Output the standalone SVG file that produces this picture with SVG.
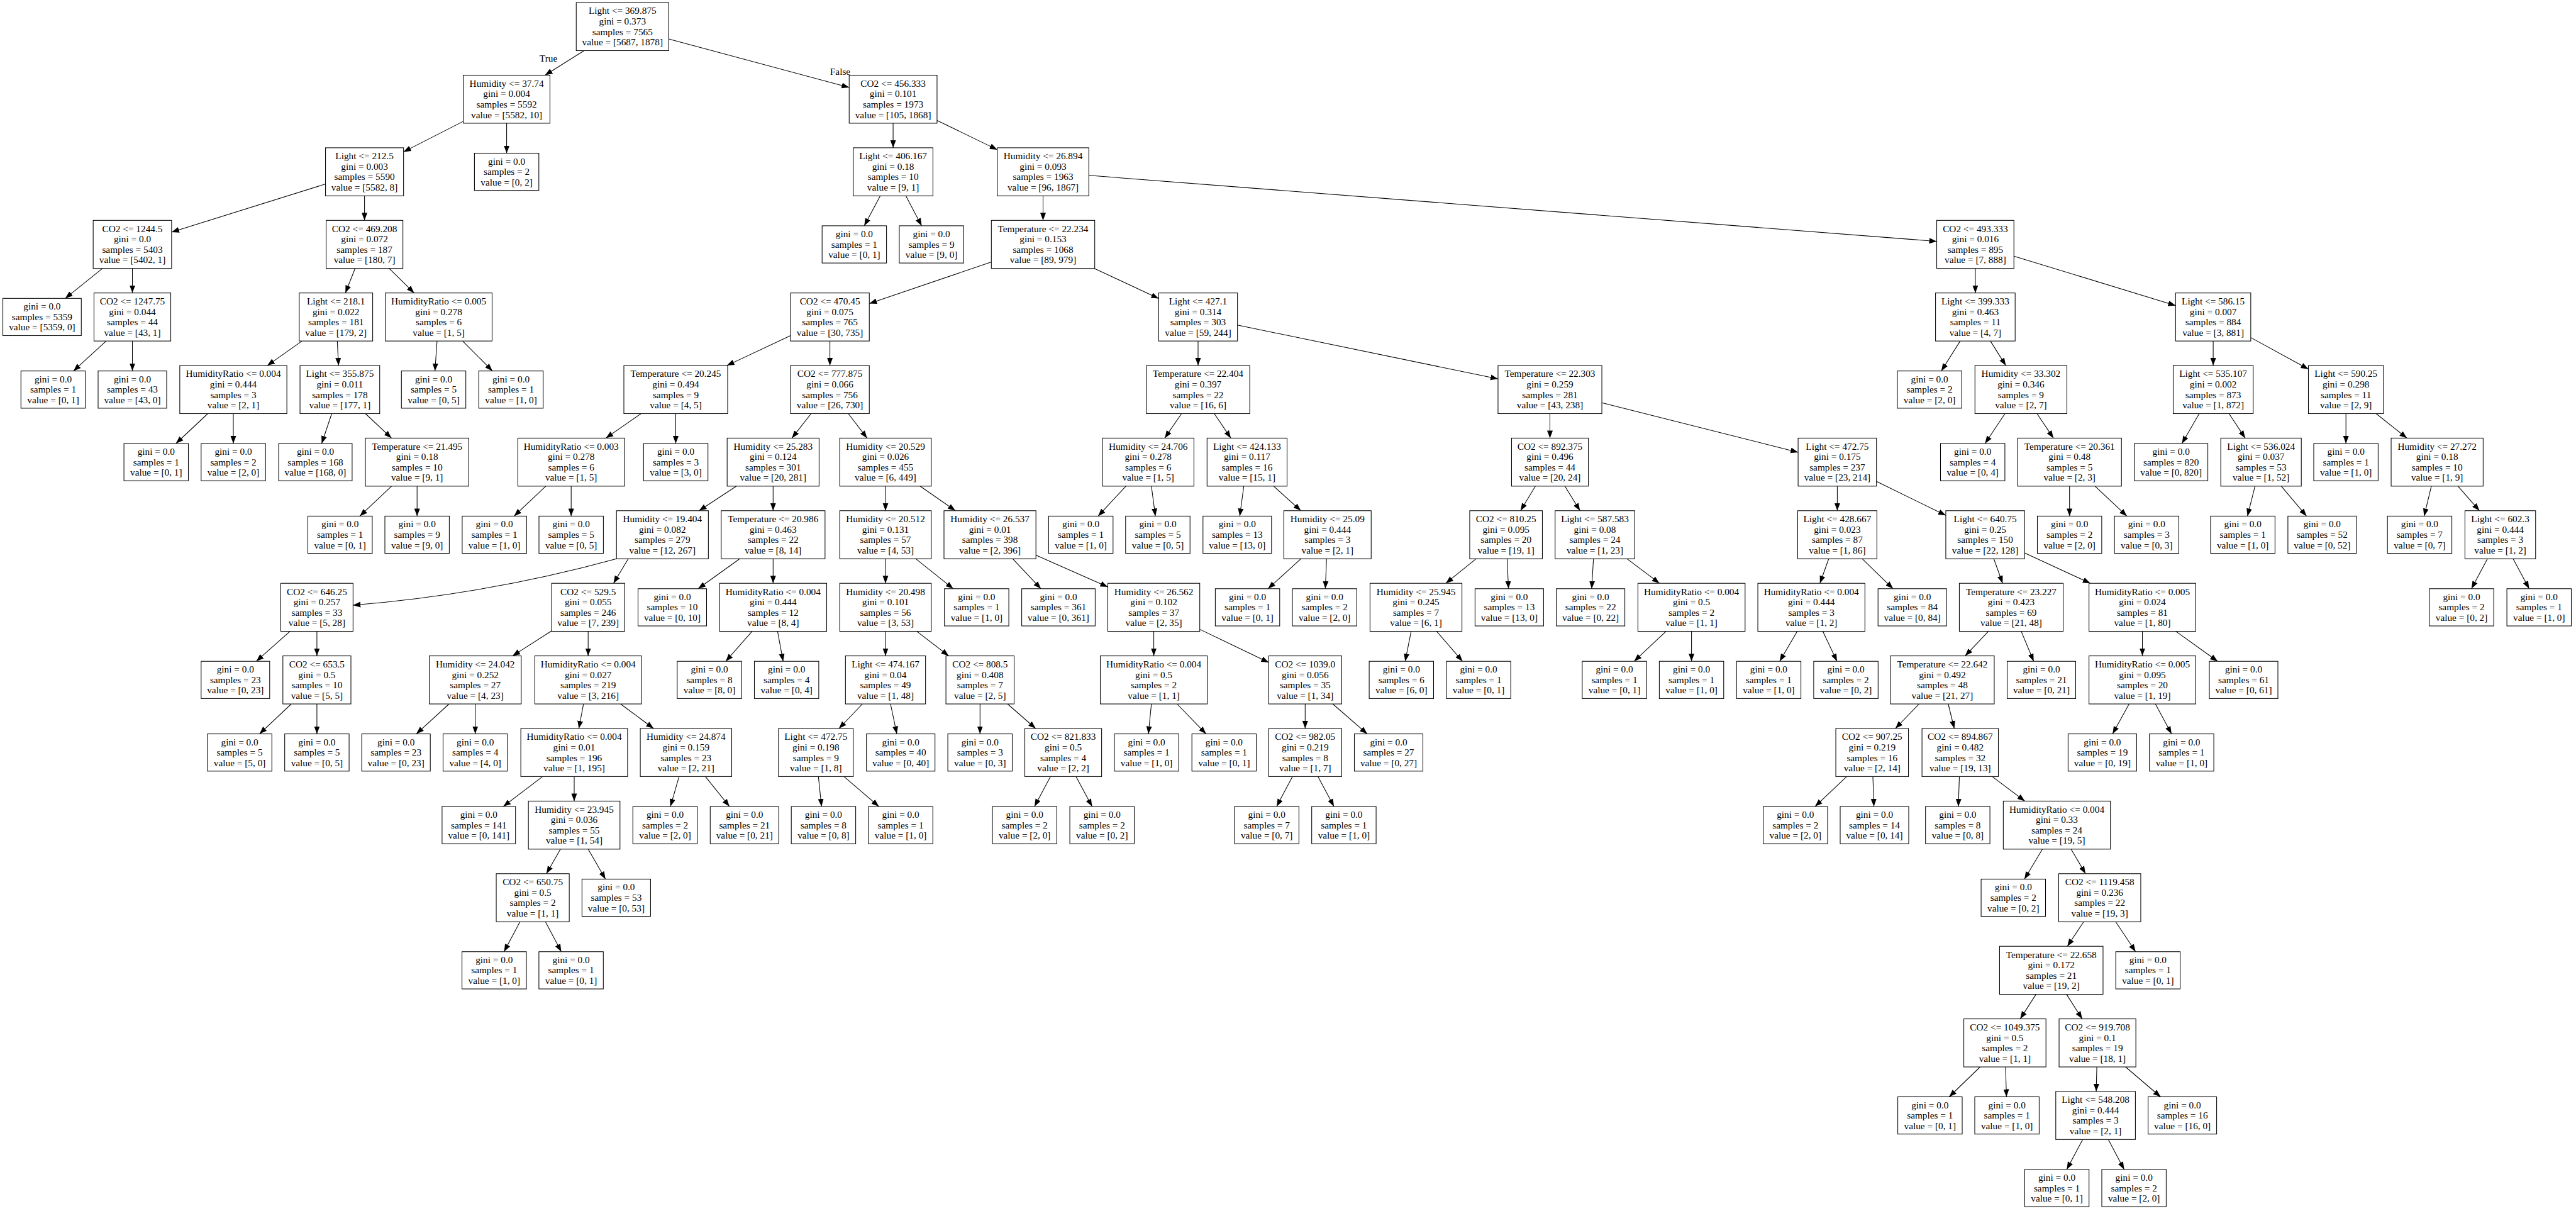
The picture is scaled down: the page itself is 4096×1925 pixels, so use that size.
<svg xmlns="http://www.w3.org/2000/svg" width="4096" height="1925" viewBox="0 0 4096 1925">
<style>
.node rect{fill:#fff;stroke:#000;stroke-width:1.05}
.node text,.lbl{font-family:"Liberation Serif","Times New Roman",serif;font-size:15.3px;text-anchor:middle;fill:#000}
#edges path{fill:none;stroke:#000;stroke-width:1.05;marker-end:url(#arr)}
</style>
<defs>
<marker id="arr" markerUnits="userSpaceOnUse" markerWidth="13" markerHeight="10" refX="12" refY="5" orient="auto" viewBox="0 0 13 10"><path d="M0,0.5L12,5L0,9.5z" fill="#000"/></marker>
</defs>
<rect x="0" y="0" width="4096" height="1925" fill="#fff"/>
<g id="edges">
<path d="M928.8,80.5L866.6,119.5"/>
<path d="M1063.4,62L1350.2,139"/>
<path d="M736.7,192.9L641.6,241.4"/>
<path d="M805.6,195.9L805.6,243.5"/>
<path d="M1420.1,195.9L1420.1,234.9"/>
<path d="M1490,191.5L1585.7,237.9"/>
<path d="M517.5,292.5L272.9,369"/>
<path d="M579.6,311.3L579.6,350.3"/>
<path d="M1399.7,311.3L1374.2,358.9"/>
<path d="M1440.3,311.3L1465.5,358.9"/>
<path d="M1658.5,311.3L1658.5,350.3"/>
<path d="M1731.3,278.8L3079.6,383.7"/>
<path d="M163,426.7L103.7,474.3"/>
<path d="M210.5,426.7L210.5,465.7"/>
<path d="M564.6,426.7L549.2,465.7"/>
<path d="M618.7,426.7L658.5,465.7"/>
<path d="M1576.3,416.5L1382.3,482.6"/>
<path d="M1740.1,426.7L1842.4,474.6"/>
<path d="M3140.9,426.7L3140.9,465.7"/>
<path d="M3202.3,407.2L3459.4,485.7"/>
<path d="M168.8,542.1L116.8,589.7"/>
<path d="M210.5,542.1L210.5,589.7"/>
<path d="M480.2,542.1L425,581.1"/>
<path d="M536.3,542.1L538.3,581.1"/>
<path d="M694.9,542.1L691.6,589.7"/>
<path d="M735.6,542.1L783,589.7"/>
<path d="M1257,533.4L1155.7,581.1"/>
<path d="M1319.6,542.1L1319.6,581.1"/>
<path d="M1905,542.1L1905,581.1"/>
<path d="M1967.7,516.8L2382,602.3"/>
<path d="M3116.8,542.1L3086.8,589.7"/>
<path d="M3164.9,542.1L3189.4,581.1"/>
<path d="M3519.1,542.1L3519.1,581.1"/>
<path d="M3578.9,536.6L3670.5,586.7"/>
<path d="M330.4,657.5L279.8,705"/>
<path d="M371,657.5L371,705"/>
<path d="M527.5,657.5L511.5,705"/>
<path d="M581.1,657.5L622.5,696.4"/>
<path d="M1019.4,657.5L963.3,696.4"/>
<path d="M1074.5,657.5L1074.5,705"/>
<path d="M1289.7,657.5L1259.2,696.4"/>
<path d="M1348.9,657.5L1378.7,696.4"/>
<path d="M1878.7,657.5L1852,696.4"/>
<path d="M1930.8,657.5L1957.1,696.4"/>
<path d="M2464.5,657.5L2464.5,696.4"/>
<path d="M2547.1,640.2L2859.1,718.9"/>
<path d="M3188,657.5L3156.4,705"/>
<path d="M3239,657.5L3265.1,696.4"/>
<path d="M3496.9,657.5L3469.4,705"/>
<path d="M3544.3,657.5L3570,696.4"/>
<path d="M3730.2,657.5L3730.2,705"/>
<path d="M3778.2,657.5L3827.2,696.4"/>
<path d="M622.6,772.8L572.1,820.4"/>
<path d="M663.2,772.8L663.2,820.4"/>
<path d="M867.8,772.8L817.4,820.4"/>
<path d="M908.2,772.8L908.2,820.4"/>
<path d="M1171,772.8L1111.6,811.8"/>
<path d="M1229.3,772.8L1229.3,811.8"/>
<path d="M1408,772.8L1408,811.8"/>
<path d="M1463,772.8L1519.1,811.8"/>
<path d="M1790.2,772.8L1746.1,820.4"/>
<path d="M1830.8,772.8L1837.1,820.4"/>
<path d="M1977.7,772.8L1971.3,820.4"/>
<path d="M2025.2,772.8L2068.5,811.8"/>
<path d="M2441.4,772.8L2417.8,811.8"/>
<path d="M2488.2,772.8L2512.3,811.8"/>
<path d="M2921.4,772.8L2921.4,811.8"/>
<path d="M2983.7,765.2L3094,819.3"/>
<path d="M3290.7,772.8L3290.7,820.4"/>
<path d="M3331.3,772.8L3381.9,820.4"/>
<path d="M3585.6,772.8L3573.6,820.4"/>
<path d="M3627.4,772.8L3667.5,820.4"/>
<path d="M3866,772.8L3854.5,820.4"/>
<path d="M3908.4,772.8L3942.4,811.8"/>
<path d="M980.2,888.2Q773.4,945 561.3,961.9"/>
<path d="M999,888.2L975.5,927.2"/>
<path d="M1176.2,888.2L1110.1,935.8"/>
<path d="M1229.3,888.2L1229.3,927.2"/>
<path d="M1408,888.2L1408,927.2"/>
<path d="M1456,888.2L1515.7,935.8"/>
<path d="M1610.2,888.2L1655.1,935.8"/>
<path d="M1647.2,882.4L1761.5,933"/>
<path d="M2068.7,888.2L2016.2,935.8"/>
<path d="M2109.3,888.2L2107.4,935.8"/>
<path d="M2347.3,888.2L2298.9,927.2"/>
<path d="M2396.4,888.2L2398.6,935.8"/>
<path d="M2533.7,888.2L2530.9,935.8"/>
<path d="M2586.9,888.2L2638.7,927.2"/>
<path d="M2907.8,888.2L2893.8,927.2"/>
<path d="M2960.9,888.2L3010.1,935.8"/>
<path d="M3170.3,888.2L3184.3,927.2"/>
<path d="M3219.3,878.9L3323.8,927.2"/>
<path d="M3955.2,888.2L3929.8,935.8"/>
<path d="M3996,888.2L4021.5,935.8"/>
<path d="M461,1003.6L407.5,1051.2"/>
<path d="M503.9,1003.6L503.9,1042.6"/>
<path d="M877.2,1002.7L815.1,1042.6"/>
<path d="M935.2,1003.6L935.2,1042.6"/>
<path d="M1195.8,1003.6L1154,1051.2"/>
<path d="M1236.4,1003.6L1245.2,1051.2"/>
<path d="M1408,1003.6L1408,1042.6"/>
<path d="M1457.8,1003.6L1508.5,1042.6"/>
<path d="M1834.6,1003.6L1834.6,1042.6"/>
<path d="M1907.7,1000.4L2017.3,1053"/>
<path d="M2243.8,1003.6L2234.3,1051.2"/>
<path d="M2284.4,1003.6L2325.5,1051.2"/>
<path d="M2649,1003.6L2598.4,1051.2"/>
<path d="M2689.6,1003.6L2689.6,1051.2"/>
<path d="M2857.7,1003.6L2829.8,1051.2"/>
<path d="M2898.4,1003.6L2921,1051.2"/>
<path d="M3161.7,1003.6L3124.7,1042.6"/>
<path d="M3213.9,1003.6L3233.7,1051.2"/>
<path d="M3406.5,1003.6L3406.5,1042.6"/>
<path d="M3459.8,1003.6L3526.2,1051.2"/>
<path d="M463.2,1119L412.6,1166.6"/>
<path d="M503.9,1119L503.9,1166.6"/>
<path d="M714,1119L662,1166.6"/>
<path d="M755.7,1119L755.7,1166.6"/>
<path d="M927.8,1119L920.4,1158"/>
<path d="M986.7,1119L1039.3,1158"/>
<path d="M1371.3,1119L1334,1158"/>
<path d="M1416,1119L1426,1166.6"/>
<path d="M1558.3,1119L1558.3,1166.6"/>
<path d="M1602.1,1119L1646.8,1158"/>
<path d="M1830.8,1119L1826,1166.6"/>
<path d="M1871.6,1119L1917.7,1166.6"/>
<path d="M2075.3,1119L2075.3,1158"/>
<path d="M2119.2,1119L2174,1166.6"/>
<path d="M3051.4,1119L3013.8,1158"/>
<path d="M3097.8,1119L3107.4,1158"/>
<path d="M3385.4,1119L3359.2,1166.6"/>
<path d="M3427.2,1119L3452.9,1166.6"/>
<path d="M862.8,1234.4L800.2,1282"/>
<path d="M913,1234.4L913,1273.4"/>
<path d="M1079.8,1234.4L1066,1282"/>
<path d="M1121.6,1234.4L1159.9,1282"/>
<path d="M1301.3,1234.4L1306.3,1282"/>
<path d="M1341.9,1234.4L1397.5,1282"/>
<path d="M1670.3,1234.4L1644.9,1282"/>
<path d="M1711,1234.4L1736.5,1282"/>
<path d="M2055.1,1234.4L2029.9,1282"/>
<path d="M2095.7,1234.4L2121.1,1282"/>
<path d="M2936.4,1234.4L2886.1,1282"/>
<path d="M2978,1234.4L2979.6,1282"/>
<path d="M3115.5,1234.4L3113.9,1282"/>
<path d="M3167.7,1234.4L3219.6,1273.4"/>
<path d="M891.2,1349.8L868.9,1388.8"/>
<path d="M935.2,1349.8L962.7,1397.4"/>
<path d="M3247.6,1349.8L3219,1397.4"/>
<path d="M3293.1,1349.8L3316.1,1388.8"/>
<path d="M826.8,1465.2L801.5,1512.8"/>
<path d="M867.3,1465.2L892.5,1512.8"/>
<path d="M3313.2,1465.2L3287.2,1504.2"/>
<path d="M3364.1,1465.2L3395.7,1512.8"/>
<path d="M3237.3,1580.6L3212.3,1619.6"/>
<path d="M3286,1580.6L3310.8,1619.6"/>
<path d="M3148.5,1696L3099.3,1743.5"/>
<path d="M3189,1696L3190.4,1743.5"/>
<path d="M3334.1,1696L3333.1,1734.9"/>
<path d="M3379.8,1696L3435.5,1743.5"/>
<path d="M3311.7,1811.3L3286.3,1858.9"/>
<path d="M3352.3,1811.3L3377.5,1858.9"/>
<text class="lbl" x="872" y="97.5">True</text>
<text class="lbl" x="1336" y="119">False</text>
</g>
<g id="n0" class="node" transform="translate(989.8 42.3)"><rect x="-73.55" y="-38.2" width="147.1" height="76.4"/><text y="-19.9">Light &lt;= 369.875</text><text y="-3.3">gini = 0.373</text><text y="13.3">samples = 7565</text><text y="29.9">value = [5687, 1878]</text></g>
<g id="n1" class="node" transform="translate(805.6 157.7)"><rect x="-68.9" y="-38.2" width="137.8" height="76.4"/><text y="-19.9">Humidity &lt;= 37.74</text><text y="-3.3">gini = 0.004</text><text y="13.3">samples = 5592</text><text y="29.9">value = [5582, 10]</text></g>
<g id="n2" class="node" transform="translate(1420.1 157.7)"><rect x="-69.85" y="-38.2" width="139.7" height="76.4"/><text y="-19.9">CO2 &lt;= 456.333</text><text y="-3.3">gini = 0.101</text><text y="13.3">samples = 1973</text><text y="29.9">value = [105, 1868]</text></g>
<g id="n3" class="node" transform="translate(579.6 273.1)"><rect x="-62.05" y="-38.2" width="124.1" height="76.4"/><text y="-19.9">Light &lt;= 212.5</text><text y="-3.3">gini = 0.003</text><text y="13.3">samples = 5590</text><text y="29.9">value = [5582, 8]</text></g>
<g id="n4" class="node" transform="translate(805.6 273.1)"><rect x="-51.2" y="-29.6" width="102.4" height="59.2"/><text y="-11.6">gini = 0.0</text><text y="5">samples = 2</text><text y="21.6">value = [0, 2]</text></g>
<g id="n5" class="node" transform="translate(1420.1 273.1)"><rect x="-63.35" y="-38.2" width="126.7" height="76.4"/><text y="-19.9">Light &lt;= 406.167</text><text y="-3.3">gini = 0.18</text><text y="13.3">samples = 10</text><text y="29.9">value = [9, 1]</text></g>
<g id="n6" class="node" transform="translate(1658.5 273.1)"><rect x="-72.8" y="-38.2" width="145.6" height="76.4"/><text y="-19.9">Humidity &lt;= 26.894</text><text y="-3.3">gini = 0.093</text><text y="13.3">samples = 1963</text><text y="29.9">value = [96, 1867]</text></g>
<g id="n7" class="node" transform="translate(210.5 388.5)"><rect x="-62.35" y="-38.2" width="124.7" height="76.4"/><text y="-19.9">CO2 &lt;= 1244.5</text><text y="-3.3">gini = 0.0</text><text y="13.3">samples = 5403</text><text y="29.9">value = [5402, 1]</text></g>
<g id="n8" class="node" transform="translate(579.6 388.5)"><rect x="-61.05" y="-38.2" width="122.1" height="76.4"/><text y="-19.9">CO2 &lt;= 469.208</text><text y="-3.3">gini = 0.072</text><text y="13.3">samples = 187</text><text y="29.9">value = [180, 7]</text></g>
<g id="n9" class="node" transform="translate(1358.4 388.5)"><rect x="-51.2" y="-29.6" width="102.4" height="59.2"/><text y="-11.6">gini = 0.0</text><text y="5">samples = 1</text><text y="21.6">value = [0, 1]</text></g>
<g id="n10" class="node" transform="translate(1481.1 388.5)"><rect x="-51.2" y="-29.6" width="102.4" height="59.2"/><text y="-11.6">gini = 0.0</text><text y="5">samples = 9</text><text y="21.6">value = [9, 0]</text></g>
<g id="n11" class="node" transform="translate(1658.5 388.5)"><rect x="-82.2" y="-38.2" width="164.4" height="76.4"/><text y="-19.9">Temperature &lt;= 22.234</text><text y="-3.3">gini = 0.153</text><text y="13.3">samples = 1068</text><text y="29.9">value = [89, 979]</text></g>
<g id="n12" class="node" transform="translate(3140.9 388.5)"><rect x="-61.35" y="-38.2" width="122.7" height="76.4"/><text y="-19.9">CO2 &lt;= 493.333</text><text y="-3.3">gini = 0.016</text><text y="13.3">samples = 895</text><text y="29.9">value = [7, 888]</text></g>
<g id="n13" class="node" transform="translate(66.9 503.9)"><rect x="-62.35" y="-29.6" width="124.7" height="59.2"/><text y="-11.6">gini = 0.0</text><text y="5">samples = 5359</text><text y="21.6">value = [5359, 0]</text></g>
<g id="n14" class="node" transform="translate(210.5 503.9)"><rect x="-61.05" y="-38.2" width="122.1" height="76.4"/><text y="-19.9">CO2 &lt;= 1247.75</text><text y="-3.3">gini = 0.044</text><text y="13.3">samples = 44</text><text y="29.9">value = [43, 1]</text></g>
<g id="n15" class="node" transform="translate(534.2 503.9)"><rect x="-58.4" y="-38.2" width="116.8" height="76.4"/><text y="-19.9">Light &lt;= 218.1</text><text y="-3.3">gini = 0.022</text><text y="13.3">samples = 181</text><text y="29.9">value = [179, 2]</text></g>
<g id="n16" class="node" transform="translate(697.6 503.9)"><rect x="-84.85" y="-38.2" width="169.7" height="76.4"/><text y="-19.9">HumidityRatio &lt;= 0.005</text><text y="-3.3">gini = 0.278</text><text y="13.3">samples = 6</text><text y="29.9">value = [1, 5]</text></g>
<g id="n17" class="node" transform="translate(1319.6 503.9)"><rect x="-62.65" y="-38.2" width="125.3" height="76.4"/><text y="-19.9">CO2 &lt;= 470.45</text><text y="-3.3">gini = 0.075</text><text y="13.3">samples = 765</text><text y="29.9">value = [30, 735]</text></g>
<g id="n18" class="node" transform="translate(1905 503.9)"><rect x="-62.65" y="-38.2" width="125.3" height="76.4"/><text y="-19.9">Light &lt;= 427.1</text><text y="-3.3">gini = 0.314</text><text y="13.3">samples = 303</text><text y="29.9">value = [59, 244]</text></g>
<g id="n19" class="node" transform="translate(3140.9 503.9)"><rect x="-63.3" y="-38.2" width="126.6" height="76.4"/><text y="-19.9">Light &lt;= 399.333</text><text y="-3.3">gini = 0.463</text><text y="13.3">samples = 11</text><text y="29.9">value = [4, 7]</text></g>
<g id="n20" class="node" transform="translate(3519.1 503.9)"><rect x="-59.75" y="-38.2" width="119.5" height="76.4"/><text y="-19.9">Light &lt;= 586.15</text><text y="-3.3">gini = 0.007</text><text y="13.3">samples = 884</text><text y="29.9">value = [3, 881]</text></g>
<g id="n21" class="node" transform="translate(84.5 619.3)"><rect x="-51.2" y="-29.6" width="102.4" height="59.2"/><text y="-11.6">gini = 0.0</text><text y="5">samples = 1</text><text y="21.6">value = [0, 1]</text></g>
<g id="n22" class="node" transform="translate(210.5 619.3)"><rect x="-54.5" y="-29.6" width="109" height="59.2"/><text y="-11.6">gini = 0.0</text><text y="5">samples = 43</text><text y="21.6">value = [43, 0]</text></g>
<g id="n23" class="node" transform="translate(371 619.3)"><rect x="-85.15" y="-38.2" width="170.3" height="76.4"/><text y="-19.9">HumidityRatio &lt;= 0.004</text><text y="-3.3">gini = 0.444</text><text y="13.3">samples = 3</text><text y="29.9">value = [2, 1]</text></g>
<g id="n24" class="node" transform="translate(540.4 619.3)"><rect x="-63.35" y="-38.2" width="126.7" height="76.4"/><text y="-19.9">Light &lt;= 355.875</text><text y="-3.3">gini = 0.011</text><text y="13.3">samples = 178</text><text y="29.9">value = [177, 1]</text></g>
<g id="n25" class="node" transform="translate(689.5 619.3)"><rect x="-51.2" y="-29.6" width="102.4" height="59.2"/><text y="-11.6">gini = 0.0</text><text y="5">samples = 5</text><text y="21.6">value = [0, 5]</text></g>
<g id="n26" class="node" transform="translate(812.5 619.3)"><rect x="-51.2" y="-29.6" width="102.4" height="59.2"/><text y="-11.6">gini = 0.0</text><text y="5">samples = 1</text><text y="21.6">value = [1, 0]</text></g>
<g id="n27" class="node" transform="translate(1074.5 619.3)"><rect x="-82.5" y="-38.2" width="165" height="76.4"/><text y="-19.9">Temperature &lt;= 20.245</text><text y="-3.3">gini = 0.494</text><text y="13.3">samples = 9</text><text y="29.9">value = [4, 5]</text></g>
<g id="n28" class="node" transform="translate(1319.6 619.3)"><rect x="-62.65" y="-38.2" width="125.3" height="76.4"/><text y="-19.9">CO2 &lt;= 777.875</text><text y="-3.3">gini = 0.066</text><text y="13.3">samples = 756</text><text y="29.9">value = [26, 730]</text></g>
<g id="n29" class="node" transform="translate(1905 619.3)"><rect x="-82.2" y="-38.2" width="164.4" height="76.4"/><text y="-19.9">Temperature &lt;= 22.404</text><text y="-3.3">gini = 0.397</text><text y="13.3">samples = 22</text><text y="29.9">value = [16, 6]</text></g>
<g id="n30" class="node" transform="translate(2464.5 619.3)"><rect x="-82.55" y="-38.2" width="165.1" height="76.4"/><text y="-19.9">Temperature &lt;= 22.303</text><text y="-3.3">gini = 0.259</text><text y="13.3">samples = 281</text><text y="29.9">value = [43, 238]</text></g>
<g id="n31" class="node" transform="translate(3068.1 619.3)"><rect x="-51.2" y="-29.6" width="102.4" height="59.2"/><text y="-11.6">gini = 0.0</text><text y="5">samples = 2</text><text y="21.6">value = [2, 0]</text></g>
<g id="n32" class="node" transform="translate(3213.4 619.3)"><rect x="-73.1" y="-38.2" width="146.2" height="76.4"/><text y="-19.9">Humidity &lt;= 33.302</text><text y="-3.3">gini = 0.346</text><text y="13.3">samples = 9</text><text y="29.9">value = [2, 7]</text></g>
<g id="n33" class="node" transform="translate(3519.1 619.3)"><rect x="-63.6" y="-38.2" width="127.2" height="76.4"/><text y="-19.9">Light &lt;= 535.107</text><text y="-3.3">gini = 0.002</text><text y="13.3">samples = 873</text><text y="29.9">value = [1, 872]</text></g>
<g id="n34" class="node" transform="translate(3730.2 619.3)"><rect x="-59.7" y="-38.2" width="119.4" height="76.4"/><text y="-19.9">Light &lt;= 590.25</text><text y="-3.3">gini = 0.298</text><text y="13.3">samples = 11</text><text y="29.9">value = [2, 9]</text></g>
<g id="n35" class="node" transform="translate(248.3 734.6)"><rect x="-51.2" y="-29.6" width="102.4" height="59.2"/><text y="-11.6">gini = 0.0</text><text y="5">samples = 1</text><text y="21.6">value = [0, 1]</text></g>
<g id="n36" class="node" transform="translate(371 734.6)"><rect x="-51.2" y="-29.6" width="102.4" height="59.2"/><text y="-11.6">gini = 0.0</text><text y="5">samples = 2</text><text y="21.6">value = [2, 0]</text></g>
<g id="n37" class="node" transform="translate(501.5 734.6)"><rect x="-58.4" y="-29.6" width="116.8" height="59.2"/><text y="-11.6">gini = 0.0</text><text y="5">samples = 168</text><text y="21.6">value = [168, 0]</text></g>
<g id="n38" class="node" transform="translate(663.2 734.6)"><rect x="-82.2" y="-38.2" width="164.4" height="76.4"/><text y="-19.9">Temperature &lt;= 21.495</text><text y="-3.3">gini = 0.18</text><text y="13.3">samples = 10</text><text y="29.9">value = [9, 1]</text></g>
<g id="n39" class="node" transform="translate(908.2 734.6)"><rect x="-84.8" y="-38.2" width="169.6" height="76.4"/><text y="-19.9">HumidityRatio &lt;= 0.003</text><text y="-3.3">gini = 0.278</text><text y="13.3">samples = 6</text><text y="29.9">value = [1, 5]</text></g>
<g id="n40" class="node" transform="translate(1074.5 734.6)"><rect x="-51.2" y="-29.6" width="102.4" height="59.2"/><text y="-11.6">gini = 0.0</text><text y="5">samples = 3</text><text y="21.6">value = [3, 0]</text></g>
<g id="n41" class="node" transform="translate(1229.3 734.6)"><rect x="-73.1" y="-38.2" width="146.2" height="76.4"/><text y="-19.9">Humidity &lt;= 25.283</text><text y="-3.3">gini = 0.124</text><text y="13.3">samples = 301</text><text y="29.9">value = [20, 281]</text></g>
<g id="n42" class="node" transform="translate(1408 734.6)"><rect x="-72.75" y="-38.2" width="145.5" height="76.4"/><text y="-19.9">Humidity &lt;= 20.529</text><text y="-3.3">gini = 0.026</text><text y="13.3">samples = 455</text><text y="29.9">value = [6, 449]</text></g>
<g id="n43" class="node" transform="translate(1825.7 734.6)"><rect x="-72.75" y="-38.2" width="145.5" height="76.4"/><text y="-19.9">Humidity &lt;= 24.706</text><text y="-3.3">gini = 0.278</text><text y="13.3">samples = 6</text><text y="29.9">value = [1, 5]</text></g>
<g id="n44" class="node" transform="translate(1982.9 734.6)"><rect x="-63.6" y="-38.2" width="127.2" height="76.4"/><text y="-19.9">Light &lt;= 424.133</text><text y="-3.3">gini = 0.117</text><text y="13.3">samples = 16</text><text y="29.9">value = [15, 1]</text></g>
<g id="n45" class="node" transform="translate(2464.5 734.6)"><rect x="-61.05" y="-38.2" width="122.1" height="76.4"/><text y="-19.9">CO2 &lt;= 892.375</text><text y="-3.3">gini = 0.496</text><text y="13.3">samples = 44</text><text y="29.9">value = [20, 24]</text></g>
<g id="n46" class="node" transform="translate(2921.4 734.6)"><rect x="-62.3" y="-38.2" width="124.6" height="76.4"/><text y="-19.9">Light &lt;= 472.75</text><text y="-3.3">gini = 0.175</text><text y="13.3">samples = 237</text><text y="29.9">value = [23, 214]</text></g>
<g id="n47" class="node" transform="translate(3136.7 734.6)"><rect x="-51.2" y="-29.6" width="102.4" height="59.2"/><text y="-11.6">gini = 0.0</text><text y="5">samples = 4</text><text y="21.6">value = [0, 4]</text></g>
<g id="n48" class="node" transform="translate(3290.7 734.6)"><rect x="-82.55" y="-38.2" width="165.1" height="76.4"/><text y="-19.9">Temperature &lt;= 20.361</text><text y="-3.3">gini = 0.48</text><text y="13.3">samples = 5</text><text y="29.9">value = [2, 3]</text></g>
<g id="n49" class="node" transform="translate(3452.2 734.6)"><rect x="-58.4" y="-29.6" width="116.8" height="59.2"/><text y="-11.6">gini = 0.0</text><text y="5">samples = 820</text><text y="21.6">value = [0, 820]</text></g>
<g id="n50" class="node" transform="translate(3595.2 734.6)"><rect x="-64" y="-38.2" width="128" height="76.4"/><text y="-19.9">Light &lt;= 536.024</text><text y="-3.3">gini = 0.037</text><text y="13.3">samples = 53</text><text y="29.9">value = [1, 52]</text></g>
<g id="n51" class="node" transform="translate(3730.2 734.6)"><rect x="-51.2" y="-29.6" width="102.4" height="59.2"/><text y="-11.6">gini = 0.0</text><text y="5">samples = 1</text><text y="21.6">value = [1, 0]</text></g>
<g id="n52" class="node" transform="translate(3875.2 734.6)"><rect x="-73.15" y="-38.2" width="146.3" height="76.4"/><text y="-19.9">Humidity &lt;= 27.272</text><text y="-3.3">gini = 0.18</text><text y="13.3">samples = 10</text><text y="29.9">value = [1, 9]</text></g>
<g id="n53" class="node" transform="translate(540.7 850)"><rect x="-51.2" y="-29.6" width="102.4" height="59.2"/><text y="-11.6">gini = 0.0</text><text y="5">samples = 1</text><text y="21.6">value = [0, 1]</text></g>
<g id="n54" class="node" transform="translate(663.2 850)"><rect x="-51.2" y="-29.6" width="102.4" height="59.2"/><text y="-11.6">gini = 0.0</text><text y="5">samples = 9</text><text y="21.6">value = [9, 0]</text></g>
<g id="n55" class="node" transform="translate(786.1 850)"><rect x="-51.2" y="-29.6" width="102.4" height="59.2"/><text y="-11.6">gini = 0.0</text><text y="5">samples = 1</text><text y="21.6">value = [1, 0]</text></g>
<g id="n56" class="node" transform="translate(908.2 850)"><rect x="-51.2" y="-29.6" width="102.4" height="59.2"/><text y="-11.6">gini = 0.0</text><text y="5">samples = 5</text><text y="21.6">value = [0, 5]</text></g>
<g id="n57" class="node" transform="translate(1053.3 850)"><rect x="-73.05" y="-38.2" width="146.1" height="76.4"/><text y="-19.9">Humidity &lt;= 19.404</text><text y="-3.3">gini = 0.082</text><text y="13.3">samples = 279</text><text y="29.9">value = [12, 267]</text></g>
<g id="n58" class="node" transform="translate(1229.3 850)"><rect x="-82.55" y="-38.2" width="165.1" height="76.4"/><text y="-19.9">Temperature &lt;= 20.986</text><text y="-3.3">gini = 0.463</text><text y="13.3">samples = 22</text><text y="29.9">value = [8, 14]</text></g>
<g id="n59" class="node" transform="translate(1408 850)"><rect x="-72.75" y="-38.2" width="145.5" height="76.4"/><text y="-19.9">Humidity &lt;= 20.512</text><text y="-3.3">gini = 0.131</text><text y="13.3">samples = 57</text><text y="29.9">value = [4, 53]</text></g>
<g id="n60" class="node" transform="translate(1574.1 850)"><rect x="-73.1" y="-38.2" width="146.2" height="76.4"/><text y="-19.9">Humidity &lt;= 26.537</text><text y="-3.3">gini = 0.01</text><text y="13.3">samples = 398</text><text y="29.9">value = [2, 396]</text></g>
<g id="n61" class="node" transform="translate(1718.6 850)"><rect x="-51.2" y="-29.6" width="102.4" height="59.2"/><text y="-11.6">gini = 0.0</text><text y="5">samples = 1</text><text y="21.6">value = [1, 0]</text></g>
<g id="n62" class="node" transform="translate(1841 850)"><rect x="-51.2" y="-29.6" width="102.4" height="59.2"/><text y="-11.6">gini = 0.0</text><text y="5">samples = 5</text><text y="21.6">value = [0, 5]</text></g>
<g id="n63" class="node" transform="translate(1967.3 850)"><rect x="-54.5" y="-29.6" width="109" height="59.2"/><text y="-11.6">gini = 0.0</text><text y="5">samples = 13</text><text y="21.6">value = [13, 0]</text></g>
<g id="n64" class="node" transform="translate(2110.8 850)"><rect x="-69.45" y="-38.2" width="138.9" height="76.4"/><text y="-19.9">Humidity &lt;= 25.09</text><text y="-3.3">gini = 0.444</text><text y="13.3">samples = 3</text><text y="29.9">value = [2, 1]</text></g>
<g id="n65" class="node" transform="translate(2394.7 850)"><rect x="-57.75" y="-38.2" width="115.5" height="76.4"/><text y="-19.9">CO2 &lt;= 810.25</text><text y="-3.3">gini = 0.095</text><text y="13.3">samples = 20</text><text y="29.9">value = [19, 1]</text></g>
<g id="n66" class="node" transform="translate(2536 850)"><rect x="-63.3" y="-38.2" width="126.6" height="76.4"/><text y="-19.9">Light &lt;= 587.583</text><text y="-3.3">gini = 0.08</text><text y="13.3">samples = 24</text><text y="29.9">value = [1, 23]</text></g>
<g id="n67" class="node" transform="translate(2921.4 850)"><rect x="-63" y="-38.2" width="126" height="76.4"/><text y="-19.9">Light &lt;= 428.667</text><text y="-3.3">gini = 0.023</text><text y="13.3">samples = 87</text><text y="29.9">value = [1, 86]</text></g>
<g id="n68" class="node" transform="translate(3156.6 850)"><rect x="-62.65" y="-38.2" width="125.3" height="76.4"/><text y="-19.9">Light &lt;= 640.75</text><text y="-3.3">gini = 0.25</text><text y="13.3">samples = 150</text><text y="29.9">value = [22, 128]</text></g>
<g id="n69" class="node" transform="translate(3290.7 850)"><rect x="-51.2" y="-29.6" width="102.4" height="59.2"/><text y="-11.6">gini = 0.0</text><text y="5">samples = 2</text><text y="21.6">value = [2, 0]</text></g>
<g id="n70" class="node" transform="translate(3413.3 850)"><rect x="-51.2" y="-29.6" width="102.4" height="59.2"/><text y="-11.6">gini = 0.0</text><text y="5">samples = 3</text><text y="21.6">value = [0, 3]</text></g>
<g id="n71" class="node" transform="translate(3566.2 850)"><rect x="-51.2" y="-29.6" width="102.4" height="59.2"/><text y="-11.6">gini = 0.0</text><text y="5">samples = 1</text><text y="21.6">value = [1, 0]</text></g>
<g id="n72" class="node" transform="translate(3692.4 850)"><rect x="-54.5" y="-29.6" width="109" height="59.2"/><text y="-11.6">gini = 0.0</text><text y="5">samples = 52</text><text y="21.6">value = [0, 52]</text></g>
<g id="n73" class="node" transform="translate(3847.4 850)"><rect x="-51.2" y="-29.6" width="102.4" height="59.2"/><text y="-11.6">gini = 0.0</text><text y="5">samples = 7</text><text y="21.6">value = [0, 7]</text></g>
<g id="n74" class="node" transform="translate(3975.6 850)"><rect x="-56.15" y="-38.2" width="112.3" height="76.4"/><text y="-19.9">Light &lt;= 602.3</text><text y="-3.3">gini = 0.444</text><text y="13.3">samples = 3</text><text y="29.9">value = [1, 2]</text></g>
<g id="n75" class="node" transform="translate(503.9 965.4)"><rect x="-57.45" y="-38.2" width="114.9" height="76.4"/><text y="-19.9">CO2 &lt;= 646.25</text><text y="-3.3">gini = 0.257</text><text y="13.3">samples = 33</text><text y="29.9">value = [5, 28]</text></g>
<g id="n76" class="node" transform="translate(935.2 965.4)"><rect x="-58.05" y="-38.2" width="116.1" height="76.4"/><text y="-19.9">CO2 &lt;= 529.5</text><text y="-3.3">gini = 0.055</text><text y="13.3">samples = 246</text><text y="29.9">value = [7, 239]</text></g>
<g id="n77" class="node" transform="translate(1069 965.4)"><rect x="-54.5" y="-29.6" width="109" height="59.2"/><text y="-11.6">gini = 0.0</text><text y="5">samples = 10</text><text y="21.6">value = [0, 10]</text></g>
<g id="n78" class="node" transform="translate(1229.3 965.4)"><rect x="-85.2" y="-38.2" width="170.4" height="76.4"/><text y="-19.9">HumidityRatio &lt;= 0.004</text><text y="-3.3">gini = 0.444</text><text y="13.3">samples = 12</text><text y="29.9">value = [8, 4]</text></g>
<g id="n79" class="node" transform="translate(1408 965.4)"><rect x="-72.75" y="-38.2" width="145.5" height="76.4"/><text y="-19.9">Humidity &lt;= 20.498</text><text y="-3.3">gini = 0.101</text><text y="13.3">samples = 56</text><text y="29.9">value = [3, 53]</text></g>
<g id="n80" class="node" transform="translate(1552.9 965.4)"><rect x="-51.2" y="-29.6" width="102.4" height="59.2"/><text y="-11.6">gini = 0.0</text><text y="5">samples = 1</text><text y="21.6">value = [1, 0]</text></g>
<g id="n81" class="node" transform="translate(1683 965.4)"><rect x="-58.4" y="-29.6" width="116.8" height="59.2"/><text y="-11.6">gini = 0.0</text><text y="5">samples = 361</text><text y="21.6">value = [0, 361]</text></g>
<g id="n82" class="node" transform="translate(1834.6 965.4)"><rect x="-73.1" y="-38.2" width="146.2" height="76.4"/><text y="-19.9">Humidity &lt;= 26.562</text><text y="-3.3">gini = 0.102</text><text y="13.3">samples = 37</text><text y="29.9">value = [2, 35]</text></g>
<g id="n83" class="node" transform="translate(1983.6 965.4)"><rect x="-51.2" y="-29.6" width="102.4" height="59.2"/><text y="-11.6">gini = 0.0</text><text y="5">samples = 1</text><text y="21.6">value = [0, 1]</text></g>
<g id="n84" class="node" transform="translate(2106.2 965.4)"><rect x="-51.2" y="-29.6" width="102.4" height="59.2"/><text y="-11.6">gini = 0.0</text><text y="5">samples = 2</text><text y="21.6">value = [2, 0]</text></g>
<g id="n85" class="node" transform="translate(2251.5 965.4)"><rect x="-73.1" y="-38.2" width="146.2" height="76.4"/><text y="-19.9">Humidity &lt;= 25.945</text><text y="-3.3">gini = 0.245</text><text y="13.3">samples = 7</text><text y="29.9">value = [6, 1]</text></g>
<g id="n86" class="node" transform="translate(2399.9 965.4)"><rect x="-54.5" y="-29.6" width="109" height="59.2"/><text y="-11.6">gini = 0.0</text><text y="5">samples = 13</text><text y="21.6">value = [13, 0]</text></g>
<g id="n87" class="node" transform="translate(2529.1 965.4)"><rect x="-54.5" y="-29.6" width="109" height="59.2"/><text y="-11.6">gini = 0.0</text><text y="5">samples = 22</text><text y="21.6">value = [0, 22]</text></g>
<g id="n88" class="node" transform="translate(2689.6 965.4)"><rect x="-85.2" y="-38.2" width="170.4" height="76.4"/><text y="-19.9">HumidityRatio &lt;= 0.004</text><text y="-3.3">gini = 0.5</text><text y="13.3">samples = 2</text><text y="29.9">value = [1, 1]</text></g>
<g id="n89" class="node" transform="translate(2880.2 965.4)"><rect x="-85.15" y="-38.2" width="170.3" height="76.4"/><text y="-19.9">HumidityRatio &lt;= 0.004</text><text y="-3.3">gini = 0.444</text><text y="13.3">samples = 3</text><text y="29.9">value = [1, 2]</text></g>
<g id="n90" class="node" transform="translate(3040.7 965.4)"><rect x="-54.5" y="-29.6" width="109" height="59.2"/><text y="-11.6">gini = 0.0</text><text y="5">samples = 84</text><text y="21.6">value = [0, 84]</text></g>
<g id="n91" class="node" transform="translate(3198 965.4)"><rect x="-82.55" y="-38.2" width="165.1" height="76.4"/><text y="-19.9">Temperature &lt;= 23.227</text><text y="-3.3">gini = 0.423</text><text y="13.3">samples = 69</text><text y="29.9">value = [21, 48]</text></g>
<g id="n92" class="node" transform="translate(3406.5 965.4)"><rect x="-84.85" y="-38.2" width="169.7" height="76.4"/><text y="-19.9">HumidityRatio &lt;= 0.005</text><text y="-3.3">gini = 0.024</text><text y="13.3">samples = 81</text><text y="29.9">value = [1, 80]</text></g>
<g id="n93" class="node" transform="translate(3914 965.4)"><rect x="-51.2" y="-29.6" width="102.4" height="59.2"/><text y="-11.6">gini = 0.0</text><text y="5">samples = 2</text><text y="21.6">value = [0, 2]</text></g>
<g id="n94" class="node" transform="translate(4037.3 965.4)"><rect x="-51.2" y="-29.6" width="102.4" height="59.2"/><text y="-11.6">gini = 0.0</text><text y="5">samples = 1</text><text y="21.6">value = [1, 0]</text></g>
<g id="n95" class="node" transform="translate(374.3 1080.8)"><rect x="-54.5" y="-29.6" width="109" height="59.2"/><text y="-11.6">gini = 0.0</text><text y="5">samples = 23</text><text y="21.6">value = [0, 23]</text></g>
<g id="n96" class="node" transform="translate(503.9 1080.8)"><rect x="-54.1" y="-38.2" width="108.2" height="76.4"/><text y="-19.9">CO2 &lt;= 653.5</text><text y="-3.3">gini = 0.5</text><text y="13.3">samples = 10</text><text y="29.9">value = [5, 5]</text></g>
<g id="n97" class="node" transform="translate(755.7 1080.8)"><rect x="-73.1" y="-38.2" width="146.2" height="76.4"/><text y="-19.9">Humidity &lt;= 24.042</text><text y="-3.3">gini = 0.252</text><text y="13.3">samples = 27</text><text y="29.9">value = [4, 23]</text></g>
<g id="n98" class="node" transform="translate(935.2 1080.8)"><rect x="-84.8" y="-38.2" width="169.6" height="76.4"/><text y="-19.9">HumidityRatio &lt;= 0.004</text><text y="-3.3">gini = 0.027</text><text y="13.3">samples = 219</text><text y="29.9">value = [3, 216]</text></g>
<g id="n99" class="node" transform="translate(1128 1080.8)"><rect x="-51.2" y="-29.6" width="102.4" height="59.2"/><text y="-11.6">gini = 0.0</text><text y="5">samples = 8</text><text y="21.6">value = [8, 0]</text></g>
<g id="n100" class="node" transform="translate(1250.7 1080.8)"><rect x="-51.2" y="-29.6" width="102.4" height="59.2"/><text y="-11.6">gini = 0.0</text><text y="5">samples = 4</text><text y="21.6">value = [0, 4]</text></g>
<g id="n101" class="node" transform="translate(1408 1080.8)"><rect x="-63.65" y="-38.2" width="127.3" height="76.4"/><text y="-19.9">Light &lt;= 474.167</text><text y="-3.3">gini = 0.04</text><text y="13.3">samples = 49</text><text y="29.9">value = [1, 48]</text></g>
<g id="n102" class="node" transform="translate(1558.3 1080.8)"><rect x="-54.2" y="-38.2" width="108.4" height="76.4"/><text y="-19.9">CO2 &lt;= 808.5</text><text y="-3.3">gini = 0.408</text><text y="13.3">samples = 7</text><text y="29.9">value = [2, 5]</text></g>
<g id="n103" class="node" transform="translate(1834.6 1080.8)"><rect x="-85.1" y="-38.2" width="170.2" height="76.4"/><text y="-19.9">HumidityRatio &lt;= 0.004</text><text y="-3.3">gini = 0.5</text><text y="13.3">samples = 2</text><text y="29.9">value = [1, 1]</text></g>
<g id="n104" class="node" transform="translate(2075.3 1080.8)"><rect x="-58.05" y="-38.2" width="116.1" height="76.4"/><text y="-19.9">CO2 &lt;= 1039.0</text><text y="-3.3">gini = 0.056</text><text y="13.3">samples = 35</text><text y="29.9">value = [1, 34]</text></g>
<g id="n105" class="node" transform="translate(2228.3 1080.8)"><rect x="-51.2" y="-29.6" width="102.4" height="59.2"/><text y="-11.6">gini = 0.0</text><text y="5">samples = 6</text><text y="21.6">value = [6, 0]</text></g>
<g id="n106" class="node" transform="translate(2351 1080.8)"><rect x="-51.2" y="-29.6" width="102.4" height="59.2"/><text y="-11.6">gini = 0.0</text><text y="5">samples = 1</text><text y="21.6">value = [0, 1]</text></g>
<g id="n107" class="node" transform="translate(2567 1080.8)"><rect x="-51.2" y="-29.6" width="102.4" height="59.2"/><text y="-11.6">gini = 0.0</text><text y="5">samples = 1</text><text y="21.6">value = [0, 1]</text></g>
<g id="n108" class="node" transform="translate(2689.6 1080.8)"><rect x="-51.2" y="-29.6" width="102.4" height="59.2"/><text y="-11.6">gini = 0.0</text><text y="5">samples = 1</text><text y="21.6">value = [1, 0]</text></g>
<g id="n109" class="node" transform="translate(2812.4 1080.8)"><rect x="-51.2" y="-29.6" width="102.4" height="59.2"/><text y="-11.6">gini = 0.0</text><text y="5">samples = 1</text><text y="21.6">value = [1, 0]</text></g>
<g id="n110" class="node" transform="translate(2935.1 1080.8)"><rect x="-51.2" y="-29.6" width="102.4" height="59.2"/><text y="-11.6">gini = 0.0</text><text y="5">samples = 2</text><text y="21.6">value = [0, 2]</text></g>
<g id="n111" class="node" transform="translate(3088.4 1080.8)"><rect x="-82.55" y="-38.2" width="165.1" height="76.4"/><text y="-19.9">Temperature &lt;= 22.642</text><text y="-3.3">gini = 0.492</text><text y="13.3">samples = 48</text><text y="29.9">value = [21, 27]</text></g>
<g id="n112" class="node" transform="translate(3246 1080.8)"><rect x="-54.5" y="-29.6" width="109" height="59.2"/><text y="-11.6">gini = 0.0</text><text y="5">samples = 21</text><text y="21.6">value = [0, 21]</text></g>
<g id="n113" class="node" transform="translate(3406.5 1080.8)"><rect x="-84.85" y="-38.2" width="169.7" height="76.4"/><text y="-19.9">HumidityRatio &lt;= 0.005</text><text y="-3.3">gini = 0.095</text><text y="13.3">samples = 20</text><text y="29.9">value = [1, 19]</text></g>
<g id="n114" class="node" transform="translate(3567.5 1080.8)"><rect x="-54.5" y="-29.6" width="109" height="59.2"/><text y="-11.6">gini = 0.0</text><text y="5">samples = 61</text><text y="21.6">value = [0, 61]</text></g>
<g id="n115" class="node" transform="translate(381.1 1196.2)"><rect x="-51.2" y="-29.6" width="102.4" height="59.2"/><text y="-11.6">gini = 0.0</text><text y="5">samples = 5</text><text y="21.6">value = [5, 0]</text></g>
<g id="n116" class="node" transform="translate(503.9 1196.2)"><rect x="-51.2" y="-29.6" width="102.4" height="59.2"/><text y="-11.6">gini = 0.0</text><text y="5">samples = 5</text><text y="21.6">value = [0, 5]</text></g>
<g id="n117" class="node" transform="translate(629.7 1196.2)"><rect x="-54.5" y="-29.6" width="109" height="59.2"/><text y="-11.6">gini = 0.0</text><text y="5">samples = 23</text><text y="21.6">value = [0, 23]</text></g>
<g id="n118" class="node" transform="translate(755.7 1196.2)"><rect x="-51.2" y="-29.6" width="102.4" height="59.2"/><text y="-11.6">gini = 0.0</text><text y="5">samples = 4</text><text y="21.6">value = [4, 0]</text></g>
<g id="n119" class="node" transform="translate(913 1196.2)"><rect x="-84.85" y="-38.2" width="169.7" height="76.4"/><text y="-19.9">HumidityRatio &lt;= 0.004</text><text y="-3.3">gini = 0.01</text><text y="13.3">samples = 196</text><text y="29.9">value = [1, 195]</text></g>
<g id="n120" class="node" transform="translate(1090.8 1196.2)"><rect x="-72.7" y="-38.2" width="145.4" height="76.4"/><text y="-19.9">Humidity &lt;= 24.874</text><text y="-3.3">gini = 0.159</text><text y="13.3">samples = 23</text><text y="29.9">value = [2, 21]</text></g>
<g id="n121" class="node" transform="translate(1297.3 1196.2)"><rect x="-59.4" y="-38.2" width="118.8" height="76.4"/><text y="-19.9">Light &lt;= 472.75</text><text y="-3.3">gini = 0.198</text><text y="13.3">samples = 9</text><text y="29.9">value = [1, 8]</text></g>
<g id="n122" class="node" transform="translate(1432.2 1196.2)"><rect x="-54.5" y="-29.6" width="109" height="59.2"/><text y="-11.6">gini = 0.0</text><text y="5">samples = 40</text><text y="21.6">value = [0, 40]</text></g>
<g id="n123" class="node" transform="translate(1558.3 1196.2)"><rect x="-51.2" y="-29.6" width="102.4" height="59.2"/><text y="-11.6">gini = 0.0</text><text y="5">samples = 3</text><text y="21.6">value = [0, 3]</text></g>
<g id="n124" class="node" transform="translate(1690.6 1196.2)"><rect x="-61.05" y="-38.2" width="122.1" height="76.4"/><text y="-19.9">CO2 &lt;= 821.833</text><text y="-3.3">gini = 0.5</text><text y="13.3">samples = 4</text><text y="29.9">value = [2, 2]</text></g>
<g id="n125" class="node" transform="translate(1823.1 1196.2)"><rect x="-51.2" y="-29.6" width="102.4" height="59.2"/><text y="-11.6">gini = 0.0</text><text y="5">samples = 1</text><text y="21.6">value = [1, 0]</text></g>
<g id="n126" class="node" transform="translate(1946.4 1196.2)"><rect x="-51.2" y="-29.6" width="102.4" height="59.2"/><text y="-11.6">gini = 0.0</text><text y="5">samples = 1</text><text y="21.6">value = [0, 1]</text></g>
<g id="n127" class="node" transform="translate(2075.3 1196.2)"><rect x="-58.05" y="-38.2" width="116.1" height="76.4"/><text y="-19.9">CO2 &lt;= 982.05</text><text y="-3.3">gini = 0.219</text><text y="13.3">samples = 8</text><text y="29.9">value = [1, 7]</text></g>
<g id="n128" class="node" transform="translate(2208 1196.2)"><rect x="-54.5" y="-29.6" width="109" height="59.2"/><text y="-11.6">gini = 0.0</text><text y="5">samples = 27</text><text y="21.6">value = [0, 27]</text></g>
<g id="n129" class="node" transform="translate(2976.8 1196.2)"><rect x="-57.75" y="-38.2" width="115.5" height="76.4"/><text y="-19.9">CO2 &lt;= 907.25</text><text y="-3.3">gini = 0.219</text><text y="13.3">samples = 16</text><text y="29.9">value = [2, 14]</text></g>
<g id="n130" class="node" transform="translate(3116.8 1196.2)"><rect x="-60.7" y="-38.2" width="121.4" height="76.4"/><text y="-19.9">CO2 &lt;= 894.867</text><text y="-3.3">gini = 0.482</text><text y="13.3">samples = 32</text><text y="29.9">value = [19, 13]</text></g>
<g id="n131" class="node" transform="translate(3342.9 1196.2)"><rect x="-54.5" y="-29.6" width="109" height="59.2"/><text y="-11.6">gini = 0.0</text><text y="5">samples = 19</text><text y="21.6">value = [0, 19]</text></g>
<g id="n132" class="node" transform="translate(3468.9 1196.2)"><rect x="-51.2" y="-29.6" width="102.4" height="59.2"/><text y="-11.6">gini = 0.0</text><text y="5">samples = 1</text><text y="21.6">value = [1, 0]</text></g>
<g id="n133" class="node" transform="translate(761.3 1311.6)"><rect x="-58.4" y="-29.6" width="116.8" height="59.2"/><text y="-11.6">gini = 0.0</text><text y="5">samples = 141</text><text y="21.6">value = [0, 141]</text></g>
<g id="n134" class="node" transform="translate(913 1311.6)"><rect x="-72.8" y="-38.2" width="145.6" height="76.4"/><text y="-19.9">Humidity &lt;= 23.945</text><text y="-3.3">gini = 0.036</text><text y="13.3">samples = 55</text><text y="29.9">value = [1, 54]</text></g>
<g id="n135" class="node" transform="translate(1057.5 1311.6)"><rect x="-51.2" y="-29.6" width="102.4" height="59.2"/><text y="-11.6">gini = 0.0</text><text y="5">samples = 2</text><text y="21.6">value = [2, 0]</text></g>
<g id="n136" class="node" transform="translate(1183.8 1311.6)"><rect x="-54.5" y="-29.6" width="109" height="59.2"/><text y="-11.6">gini = 0.0</text><text y="5">samples = 21</text><text y="21.6">value = [0, 21]</text></g>
<g id="n137" class="node" transform="translate(1309.4 1311.6)"><rect x="-51.2" y="-29.6" width="102.4" height="59.2"/><text y="-11.6">gini = 0.0</text><text y="5">samples = 8</text><text y="21.6">value = [0, 8]</text></g>
<g id="n138" class="node" transform="translate(1432.1 1311.6)"><rect x="-51.2" y="-29.6" width="102.4" height="59.2"/><text y="-11.6">gini = 0.0</text><text y="5">samples = 1</text><text y="21.6">value = [1, 0]</text></g>
<g id="n139" class="node" transform="translate(1629.2 1311.6)"><rect x="-51.2" y="-29.6" width="102.4" height="59.2"/><text y="-11.6">gini = 0.0</text><text y="5">samples = 2</text><text y="21.6">value = [2, 0]</text></g>
<g id="n140" class="node" transform="translate(1752.3 1311.6)"><rect x="-51.2" y="-29.6" width="102.4" height="59.2"/><text y="-11.6">gini = 0.0</text><text y="5">samples = 2</text><text y="21.6">value = [0, 2]</text></g>
<g id="n141" class="node" transform="translate(2014.2 1311.6)"><rect x="-51.2" y="-29.6" width="102.4" height="59.2"/><text y="-11.6">gini = 0.0</text><text y="5">samples = 7</text><text y="21.6">value = [0, 7]</text></g>
<g id="n142" class="node" transform="translate(2136.9 1311.6)"><rect x="-51.2" y="-29.6" width="102.4" height="59.2"/><text y="-11.6">gini = 0.0</text><text y="5">samples = 1</text><text y="21.6">value = [1, 0]</text></g>
<g id="n143" class="node" transform="translate(2854.8 1311.6)"><rect x="-51.2" y="-29.6" width="102.4" height="59.2"/><text y="-11.6">gini = 0.0</text><text y="5">samples = 2</text><text y="21.6">value = [2, 0]</text></g>
<g id="n144" class="node" transform="translate(2980.5 1311.6)"><rect x="-54.5" y="-29.6" width="109" height="59.2"/><text y="-11.6">gini = 0.0</text><text y="5">samples = 14</text><text y="21.6">value = [0, 14]</text></g>
<g id="n145" class="node" transform="translate(3112.9 1311.6)"><rect x="-51.2" y="-29.6" width="102.4" height="59.2"/><text y="-11.6">gini = 0.0</text><text y="5">samples = 8</text><text y="21.6">value = [0, 8]</text></g>
<g id="n146" class="node" transform="translate(3270.5 1311.6)"><rect x="-85.15" y="-38.2" width="170.3" height="76.4"/><text y="-19.9">HumidityRatio &lt;= 0.004</text><text y="-3.3">gini = 0.33</text><text y="13.3">samples = 24</text><text y="29.9">value = [19, 5]</text></g>
<g id="n147" class="node" transform="translate(847.1 1427)"><rect x="-58.05" y="-38.2" width="116.1" height="76.4"/><text y="-19.9">CO2 &lt;= 650.75</text><text y="-3.3">gini = 0.5</text><text y="13.3">samples = 2</text><text y="29.9">value = [1, 1]</text></g>
<g id="n148" class="node" transform="translate(979.9 1427)"><rect x="-54.5" y="-29.6" width="109" height="59.2"/><text y="-11.6">gini = 0.0</text><text y="5">samples = 53</text><text y="21.6">value = [0, 53]</text></g>
<g id="n149" class="node" transform="translate(3201.3 1427)"><rect x="-51.2" y="-29.6" width="102.4" height="59.2"/><text y="-11.6">gini = 0.0</text><text y="5">samples = 2</text><text y="21.6">value = [0, 2]</text></g>
<g id="n150" class="node" transform="translate(3338.7 1427)"><rect x="-65.25" y="-38.2" width="130.5" height="76.4"/><text y="-19.9">CO2 &lt;= 1119.458</text><text y="-3.3">gini = 0.236</text><text y="13.3">samples = 22</text><text y="29.9">value = [19, 3]</text></g>
<g id="n151" class="node" transform="translate(785.8 1542.4)"><rect x="-51.2" y="-29.6" width="102.4" height="59.2"/><text y="-11.6">gini = 0.0</text><text y="5">samples = 1</text><text y="21.6">value = [1, 0]</text></g>
<g id="n152" class="node" transform="translate(908.1 1542.4)"><rect x="-51.2" y="-29.6" width="102.4" height="59.2"/><text y="-11.6">gini = 0.0</text><text y="5">samples = 1</text><text y="21.6">value = [0, 1]</text></g>
<g id="n153" class="node" transform="translate(3261.7 1542.4)"><rect x="-82.25" y="-38.2" width="164.5" height="76.4"/><text y="-19.9">Temperature &lt;= 22.658</text><text y="-3.3">gini = 0.172</text><text y="13.3">samples = 21</text><text y="29.9">value = [19, 2]</text></g>
<g id="n154" class="node" transform="translate(3415.4 1542.4)"><rect x="-51.2" y="-29.6" width="102.4" height="59.2"/><text y="-11.6">gini = 0.0</text><text y="5">samples = 1</text><text y="21.6">value = [0, 1]</text></g>
<g id="n155" class="node" transform="translate(3187.9 1657.8)"><rect x="-65.3" y="-38.2" width="130.6" height="76.4"/><text y="-19.9">CO2 &lt;= 1049.375</text><text y="-3.3">gini = 0.5</text><text y="13.3">samples = 2</text><text y="29.9">value = [1, 1]</text></g>
<g id="n156" class="node" transform="translate(3335.1 1657.8)"><rect x="-61.05" y="-38.2" width="122.1" height="76.4"/><text y="-19.9">CO2 &lt;= 919.708</text><text y="-3.3">gini = 0.1</text><text y="13.3">samples = 19</text><text y="29.9">value = [18, 1]</text></g>
<g id="n157" class="node" transform="translate(3068.8 1773.1)"><rect x="-51.2" y="-29.6" width="102.4" height="59.2"/><text y="-11.6">gini = 0.0</text><text y="5">samples = 1</text><text y="21.6">value = [0, 1]</text></g>
<g id="n158" class="node" transform="translate(3191.2 1773.1)"><rect x="-51.2" y="-29.6" width="102.4" height="59.2"/><text y="-11.6">gini = 0.0</text><text y="5">samples = 1</text><text y="21.6">value = [1, 0]</text></g>
<g id="n159" class="node" transform="translate(3332.1 1773.1)"><rect x="-63.3" y="-38.2" width="126.6" height="76.4"/><text y="-19.9">Light &lt;= 548.208</text><text y="-3.3">gini = 0.444</text><text y="13.3">samples = 3</text><text y="29.9">value = [2, 1]</text></g>
<g id="n160" class="node" transform="translate(3470.1 1773.1)"><rect x="-54.5" y="-29.6" width="109" height="59.2"/><text y="-11.6">gini = 0.0</text><text y="5">samples = 16</text><text y="21.6">value = [16, 0]</text></g>
<g id="n161" class="node" transform="translate(3270.5 1888.5)"><rect x="-51.2" y="-29.6" width="102.4" height="59.2"/><text y="-11.6">gini = 0.0</text><text y="5">samples = 1</text><text y="21.6">value = [0, 1]</text></g>
<g id="n162" class="node" transform="translate(3393.2 1888.5)"><rect x="-51.2" y="-29.6" width="102.4" height="59.2"/><text y="-11.6">gini = 0.0</text><text y="5">samples = 2</text><text y="21.6">value = [2, 0]</text></g>
</svg>
